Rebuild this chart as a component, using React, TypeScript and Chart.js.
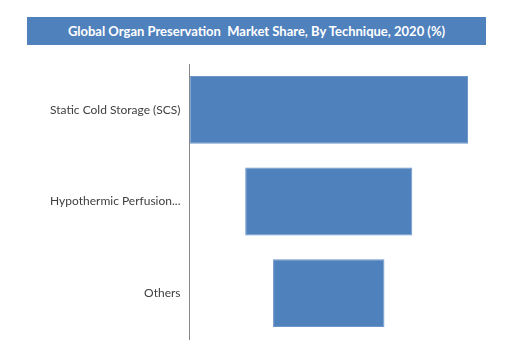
import React, { useEffect, useRef } from "react";
import { Chart, registerables } from "chart.js";

Chart.register(...registerables);

const TITLE = "Global Organ Preservation\u00a0 Market Share, By Technique, 2020 (%)";
const categories = ["Static Cold Storage (SCS)", "Hypothermic Perfusion...", "Others"];
const shares = [50, 30, 20];

export default function App() {
  const ref = useRef<HTMLCanvasElement | null>(null);

  useEffect(() => {
    if (!ref.current) return;
    const maxV = Math.max(...shares);
    const chart = new Chart(ref.current, {
      type: "bar",
      data: {
        labels: categories,
        datasets: [
          {
            data: shares.map((v) => [-v / 2, v / 2]) as any,
            backgroundColor: "#4F81BD",
            borderColor: "#6d96c9",
            borderWidth: 1,
            borderSkipped: false,
            categoryPercentage: 1,
            barPercentage: 0.74,
          },
        ],
      },
      options: {
        indexAxis: "y",
        animation: false,
        responsive: false,
        maintainAspectRatio: false,
        layout: { padding: { top: 64, bottom: 25, right: 39, left: 0 } },
        plugins: { legend: { display: false }, tooltip: { enabled: false }, title: { display: false } },
        scales: {
          x: { display: false, min: -maxV / 2, max: maxV / 2 },
          y: {
            grid: { display: false, drawTicks: false },
            border: { display: true, color: "#868686", width: 1 },
            ticks: {
              padding: 9,
              color: "#404040",
              font: { family: "Lato", size: 12 },
            },
            afterFit: (scale: any) => {
              scale.width = 189.5;
            },
          },
        },
      },
    });
    return () => chart.destroy();
  }, []);

  return (
    <div style={{ position: "fixed", left: 0, top: 0, width: 507, height: 364, background: "#fff" }}>
      <canvas ref={ref} width={507} height={364} style={{ position: "absolute", left: 0, top: 0, width: 507, height: 364 }} />
      <div
        style={{
          position: "absolute",
          left: 27,
          top: 17,
          width: 459,
          height: 28,
          background: "#4F81BD",
          color: "#fff",
          fontFamily: "Lato, sans-serif",
          fontWeight: "bold",
          fontSize: 13,
          lineHeight: "28px",
          textAlign: "center",
          whiteSpace: "pre",
        }}
      >
        {TITLE}
      </div>
    </div>
  );
}
